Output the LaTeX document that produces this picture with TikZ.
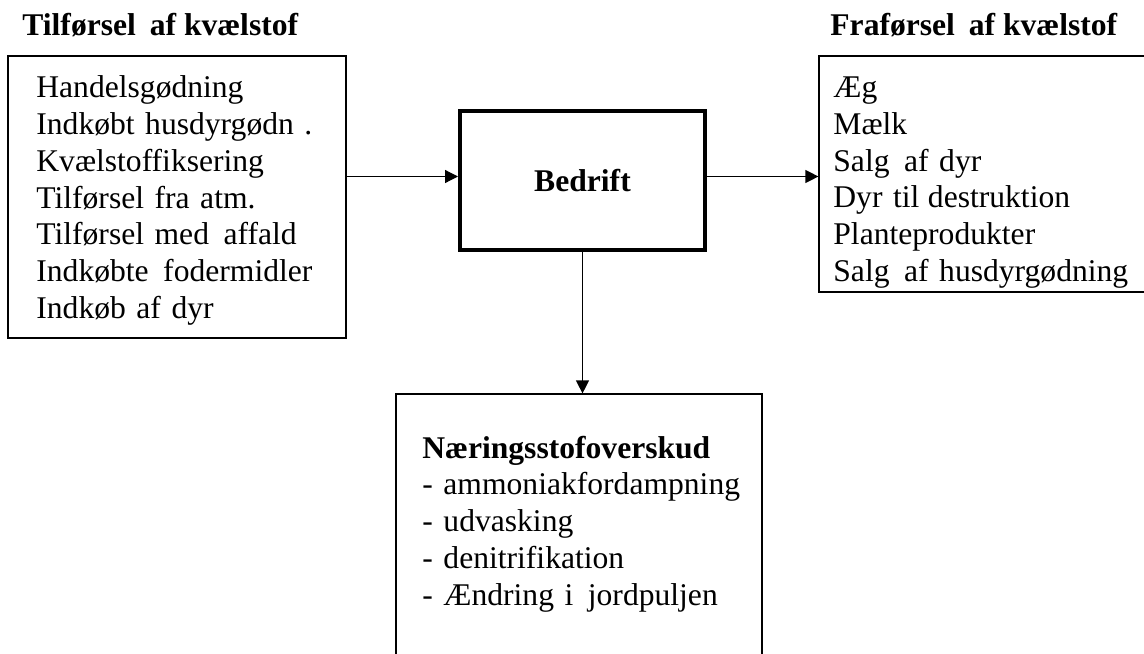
\documentclass[tikz,border=0pt]{standalone}
\usepackage{fontspec}
\setmainfont{Liberation Serif}
\usetikzlibrary{arrows.meta}
\begin{document}
\begin{tikzpicture}[x=0.5pt,y=-0.5pt,
  box/.style={draw,line width=0.6pt,inner sep=0pt},
  bigbox/.style={draw,line width=2pt,inner sep=0pt},
  txt/.style={inner sep=0pt,anchor=base west,align=left,text width=200pt,
    font=\fontsize{15.8pt}{18.4pt}\selectfont},
  ttl/.style={inner sep=0pt,anchor=base west,font=\fontsize{15.8pt}{18.4pt}\selectfont\bfseries},
  arr/.style={line width=0.6pt,-{Triangle[length=6.5pt,width=6.5pt]}}]
\useasboundingbox (0,0) rectangle (1144,653);
\clip (0,0) rectangle (1144,653);
\fill[white] (0,0) rectangle (1144,653);
% titles
\node[ttl] (t1) at (22,35) {Tilførsel\hspace{3pt} af kvælstof};
\node[ttl] (t2) at (830,35) {Fraførsel\hspace{3pt} af kvælstof};
% boxes
\node[box,minimum width=169pt,minimum height=141pt] (inbox) at (177,197) {};
\node[bigbox,minimum width=122.5pt,minimum height=69.5pt] (bed) at (582.5,180.5) {};
\node[box,minimum width=170.5pt,minimum height=118pt] (outbox) at (989.5,174) {};
\node[box,minimum width=183pt,minimum height=143pt] (surplus) at (579,537) {};
% texts
\node[txt] (intxt) at (36,97.6) {Handelsgødning\\Indkøbt husdyrgødn .\\Kvælstoffiksering\\Tilførsel fra atm.\\Tilførsel med\hspace{2pt} affald\\Indkøbte\hspace{2pt} fodermidler\\Indkøb af dyr};
\node[inner sep=0pt,font=\fontsize{15.8pt}{18.4pt}\selectfont\bfseries] (bedtxt) at (bed.center) {Bedrift};
\node[txt] (outtxt) at (833,97.5) {Æg\\Mælk\\Salg\hspace{2pt} af dyr\\Dyr til\hspace{-1pt} destruktion\\Planteprodukter\\Salg\hspace{2pt} af husdyrgødning};
\node[txt] (surtxt) at (422,458) {\textbf{Næringsstofoverskud}\\- ammoniakfordampning\\- udvasking\\- denitrifikation\\- Ændring i\hspace{2pt} jordpuljen};
% arrows
\draw[arr] ([yshift=2pt]bed.west -| inbox.east) -- ([yshift=2pt]bed.west);
\draw[arr] ([yshift=2pt]bed.east) -- ([yshift=2pt]bed.east -| outbox.west);
\draw[arr] (bed.south) -- (bed.south |- surplus.north);
\end{tikzpicture}
\end{document}
